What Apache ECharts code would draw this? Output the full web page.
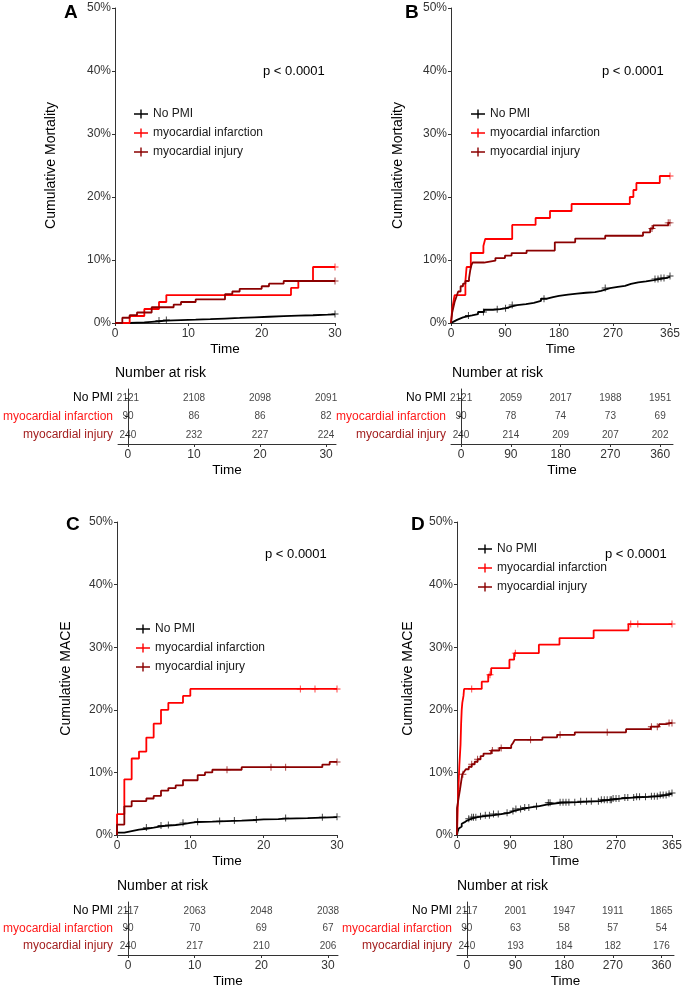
<!DOCTYPE html>
<html>
<head>
<meta charset="utf-8">
<script src="https://cdn.jsdelivr.net/npm/echarts@6/dist/echarts.min.js"></script>
<style>html,body{margin:0;padding:0;background:#fff}#c{width:685px;height:989px}</style>
</head>
<body>
<div id="c"></div>
<script>
// ---------- DATA (percent cumulative incidence, step points [time, value]) ----------
const groups = ['No PMI', 'myocardial infarction', 'myocardial injury'];

// Panel A: mortality, 30 days
const A_noPMI = [[0,0],[2,0.05],[3,0.1],[4,0.19],[5,0.28],[6,0.38],[7,0.47],[9,0.52],[11,0.61],[13,0.71],[15,0.8],[17,0.9],[19,0.99],[21,1.08],[23,1.17],[25,1.23],[27,1.32],[29,1.37],[30,1.42]];
const A_MI = [[0,0],[2,1.11],[4,2.22],[6,3.33],[7,4.44],[24,5.56],[25,6.67],[27,8.89],[30,8.89]];
const A_injury = [[0,0],[1,0.83],[2,1.25],[3,1.67],[5,2.5],[8,2.92],[9,3.33],[11,3.75],[15,4.58],[16,5.0],[17,5.42],[20,5.83],[21,6.25],[23,6.67],[30,6.67]];
const A_cens_noPMI = [6,7,30];
const A_cens_MI = [30];
const A_cens_injury = [30];

// Panel B: mortality, 365 days
const B_noPMI = [[0,0],[3,0.3],[6,0.5],[10,0.7],[15,0.9],[20,1.05],[27,1.2],[35,1.4],[45,1.75],[55,2.1],[70,2.2],[82,2.35],[92,2.6],[100,2.85],[110,3.0],[125,3.2],[138,3.5],[150,3.85],[160,4.1],[170,4.3],[180,4.5],[195,4.65],[210,4.8],[225,4.9],[240,5.1],[250,5.3],[257,5.55],[265,5.75],[278,5.9],[290,6.2],[300,6.45],[312,6.6],[325,6.8],[338,7.0],[350,7.15],[360,7.35],[365,7.45]];
const B_MI = [[0,0],[1,1.11],[2,2.22],[4,3.33],[6,4.44],[24,6.67],[26,8.89],[33,11.11],[54,12.22],[57,13.33],[102,15.56],[141,16.67],[165,17.78],[201,18.89],[298,20.0],[304,21.11],[309,22.22],[348,23.33],[365,23.33]];
const B_injury = [[0,0],[1,0.83],[2,1.67],[4,2.5],[6,3.33],[9,4.17],[12,5.0],[16,5.83],[20,6.25],[24,6.67],[30,7.08],[32,8.33],[34,9.17],[36,9.6],[55,9.9],[74,10.3],[90,10.7],[101,11.1],[126,11.5],[173,12.8],[207,13.4],[257,13.85],[320,14.4],[332,15.0],[337,15.5],[362,15.9],[365,15.9]];
const B_cens_noPMI = [29,54,77,91,102,155,257,340,345,350,355,365];
const B_cens_MI = [365];
const B_cens_injury = [335,362,365];

// Panel C: MACE, 30 days
const C_noPMI = [[0,0],[0,0.37],[1,0.61],[2,0.85],[3,1.0],[4,1.18],[5,1.37],[6,1.51],[7,1.6],[8,1.75],[9,1.94],[10,2.08],[11,2.13],[13,2.22],[15,2.3],[17,2.4],[19,2.48],[20,2.55],[22,2.62],[23,2.7],[26,2.77],[28,2.84],[30,2.9]];
const C_MI = [[0,0],[0,3.33],[1,8.89],[2,12.22],[3,13.33],[4,15.56],[5,17.78],[6,20.0],[7,21.11],[9,22.22],[10,23.33],[30,23.33]];
const C_injury = [[0,0],[0,1.67],[1,4.58],[2,5.42],[4,5.83],[5,6.25],[6,7.08],[7,7.5],[8,7.92],[9,8.75],[11,9.58],[12,10.0],[13,10.42],[17,10.83],[28,11.25],[29,11.67],[30,11.67]];
const C_cens_noPMI = [4,6,7,9,11,14,16,19,23,28,30];
const C_cens_MI = [25,27,30];
const C_cens_injury = [15,21,23,30];

// Panel D: MACE, 365 days
const D_noPMI = [[0,0],[1,0.5],[2,0.8],[3,1.05],[5,1.35],[8,1.8],[11,2.1],[14,2.35],[18,2.6],[25,2.85],[35,3.0],[47,3.15],[60,3.35],[75,3.55],[88,3.85],[97,4.15],[110,4.4],[125,4.6],[140,4.85],[152,5.15],[175,5.25],[205,5.4],[242,5.65],[265,5.85],[281,6.0],[305,6.1],[326,6.2],[345,6.4],[358,6.6],[365,6.7]];
const D_MI = [[0,0],[1,3.33],[2,6.67],[3,8.89],[4,11.11],[6,14.44],[7,17.78],[8,20.0],[9,21.11],[11,22.22],[12,23.33],[42,24.5],[53,25.6],[58,26.65],[89,28.0],[97,29.05],[139,30.4],[174,31.45],[232,32.7],[291,33.7],[365,33.7]];
const D_injury = [[0,0],[0,4.3],[2,5.5],[5,7.2],[7,8.5],[9,9.7],[12,10.1],[15,10.5],[20,10.9],[25,11.3],[30,11.7],[35,12.1],[40,12.6],[45,13.0],[58,13.5],[72,13.9],[92,14.3],[95,14.7],[98,15.2],[145,15.6],[170,16.0],[200,16.4],[287,16.9],[329,17.3],[343,17.7],[355,17.9],[365,17.9]];
const D_cens_noPMI = [20,25,28,32,40,48,55,62,70,85,95,100,108,115,122,135,155,158,175,180,185,190,200,210,220,228,240,245,250,255,260,262,265,270,275,285,290,300,305,310,320,330,335,340,345,350,355,360,365];
const D_cens_MI = [25,56,99,295,307,365];
const D_cens_injury = [10,25,35,60,75,125,175,255,330,340,360,365];

// Number at risk tables
const riskTimes30 = [0,10,20,30];
const riskTimes365 = [0,90,180,270,360];
const A_risk_noPMI = [2121,2108,2098,2091];
const A_risk_MI = [90,86,86,82];
const A_risk_injury = [240,232,227,224];
const B_risk_noPMI = [2121,2059,2017,1988,1951];
const B_risk_MI = [90,78,74,73,69];
const B_risk_injury = [240,214,209,207,202];
const C_risk_noPMI = [2117,2063,2048,2038];
const C_risk_MI = [90,70,69,67];
const C_risk_injury = [240,217,210,206];
const D_risk_noPMI = [2117,2001,1947,1911,1865];
const D_risk_MI = [90,63,58,57,54];
const D_risk_injury = [240,193,184,182,176];

const xTicks30 = [0,10,20,30];
const xTicks365 = [0,90,180,270,365];
const pText = 'p < 0.0001';

// ---------- STYLE ----------
const lineColors = ['#000000', '#FF0000', '#8B0000'];
const tableLabelColors = {'No PMI': '#000000', 'myocardial infarction': '#FF1A1A', 'myocardial injury': '#A31F1F'};
const FONT = 'Liberation Sans, Arial, sans-serif';
const AX = '#333333';
const ICON = 'path://M0,4.3 L14,4.3 L14,5.7 L0,5.7 Z M6.3,0.5 L7.7,0.5 L7.7,9.5 L6.3,9.5 Z';
const CENSOR = 'path://M-0.13,-1 L0.13,-1 L0.13,-0.13 L1,-0.13 L1,0.13 L0.13,0.13 L0.13,1 L-0.13,1 L-0.13,0.13 L-1,0.13 L-1,-0.13 L-0.13,-0.13 Z';

function stepAt(data, t) {
  let y = 0;
  for (const p of data) { if (p[0] <= t) y = p[1]; }
  return y;
}

const panels = [
  {curves:[A_noPMI,A_MI,A_injury], cens:[A_cens_noPMI,A_cens_MI,A_cens_injury], max:30, ticks:xTicks30, ylabel:'Cumulative Mortality', nameGap:57,
   grid:{left:115, top:8, width:220, height:315}, risk:[A_risk_noPMI,A_risk_MI,A_risk_injury], rt:riskTimes30,
   tgrid:{left:115, top:389, width:221, height:55}, trange:[-1.5,31.5]},
  {curves:[B_noPMI,B_MI,B_injury], cens:[B_cens_noPMI,B_cens_MI,B_cens_injury], max:365, ticks:xTicks365, ylabel:'Cumulative Mortality', nameGap:46,
   grid:{left:451, top:8, width:219, height:315}, risk:[B_risk_noPMI,B_risk_MI,B_risk_injury], rt:riskTimes365,
   tgrid:{left:451, top:389, width:222, height:55}, trange:[-18.25,383.25]},
  {curves:[C_noPMI,C_MI,C_injury], cens:[C_cens_noPMI,C_cens_MI,C_cens_injury], max:30, ticks:xTicks30, ylabel:'Cumulative MACE', nameGap:44,
   grid:{left:117, top:522, width:220, height:313}, risk:[C_risk_noPMI,C_risk_MI,C_risk_injury], rt:riskTimes30,
   tgrid:{left:117, top:902, width:221, height:55}, trange:[-1.5,31.5]},
  {curves:[D_noPMI,D_MI,D_injury], cens:[D_cens_noPMI,D_cens_MI,D_cens_injury], max:365, ticks:xTicks365, ylabel:'Cumulative MACE', nameGap:42,
   grid:{left:457, top:522, width:218, height:313}, risk:[D_risk_noPMI,D_risk_MI,D_risk_injury], rt:riskTimes365,
   tgrid:{left:457, top:902, width:217, height:55}, trange:[-18.25,383.25]}
];

const grid = [], xAxis = [], yAxis = [], series = [];
panels.forEach((P, i) => {
  grid.push(P.grid);
  xAxis.push({type:'value', gridIndex:i, min:0, max:P.max,
    axisLine:{show:true, lineStyle:{color:AX, width:1}},
    axisTick:{show:true, length:3, customValues:P.ticks, lineStyle:{color:AX}},
    axisLabel:{customValues:P.ticks, color:'#333', fontSize:12, fontFamily:FONT, margin:5},
    splitLine:{show:false},
    name:'Time', nameLocation:'middle', nameGap:19, nameTextStyle:{color:'#000', fontSize:13.5, fontFamily:FONT}});
  yAxis.push({type:'value', gridIndex:i, min:0, max:50, interval:10,
    axisLine:{show:true, lineStyle:{color:AX, width:1}},
    axisTick:{show:true, length:3, lineStyle:{color:AX}},
    axisLabel:{formatter:'{value}%', color:'#333', fontSize:12, fontFamily:FONT, margin:4},
    splitLine:{show:false},
    name:P.ylabel, nameLocation:'middle', nameGap:P.nameGap, nameRotate:90,
    nameTextStyle:{color:'#000', fontSize:14, fontFamily:FONT}});
  P.curves.forEach((d, g) => {
    series.push({type:'line', name:groups[g], xAxisIndex:i, yAxisIndex:i, data:d, step:'end',
      showSymbol:false, symbol:'none', lineStyle:{color:lineColors[g], width:1.8}, itemStyle:{color:lineColors[g]},
      z:3 + (g === 0 ? 0 : g), animation:false});
    series.push({type:'scatter', name:groups[g], xAxisIndex:i, yAxisIndex:i,
      data:P.cens[g].map(t => [t, stepAt(d, t)]), symbol:CENSOR, symbolSize:7,
      itemStyle:{color:lineColors[g]}, z:4, animation:false, silent:true});
  });
});

// risk tables
panels.forEach((P, i) => {
  const gi = 4 + i;
  grid.push(P.tgrid);
  xAxis.push({type:'value', gridIndex:gi, min:P.trange[0], max:P.trange[1],
    axisLine:{show:true, lineStyle:{color:AX, width:1}},
    axisTick:{show:true, length:3, customValues:P.rt, lineStyle:{color:AX}},
    axisLabel:{customValues:P.rt, color:'#333', fontSize:12, fontFamily:FONT, margin:5},
    splitLine:{show:false},
    name:'Time', nameLocation:'middle', nameGap:19, nameTextStyle:{color:'#000', fontSize:13.5, fontFamily:FONT}});
  yAxis.push({type:'category', gridIndex:gi, data:groups, inverse:true,
    axisLine:{show:true, lineStyle:{color:AX, width:1}},
    axisTick:{show:true, length:3, alignWithLabel:true, lineStyle:{color:AX}},
    axisLabel:{color:(v) => tableLabelColors[v], fontSize:12, fontFamily:FONT, margin:5},
    splitLine:{show:false}});
  P.risk.forEach((vals, g) => {
    series.push({type:'scatter', xAxisIndex:gi, yAxisIndex:gi, symbolSize:1,
      itemStyle:{color:'rgba(0,0,0,0)'},
      data:vals.map((v, k) => [P.rt[k], groups[g], v]),
      label:{show:true, position:'inside', formatter:(p) => String(p.value[2]), color:'#111', fontSize:10, fontFamily:FONT},
      silent:true, animation:false});
  });
});

const legendPos = [{left:129, top:103}, {left:466, top:103}, {left:131, top:618}, {left:473, top:538}];
const legend = legendPos.map(pos => ({
  left:pos.left, top:pos.top, orient:'vertical', itemWidth:14, itemHeight:10, itemGap:7,
  selectedMode:false,
  textStyle:{color:'#1a1a1a', fontSize:12, fontFamily:FONT},
  data:groups.map(g => ({name:g, icon:ICON}))
}));

const T = (text, left, top, size, bold) => ({text, left, top, textStyle:{color:'#000', fontSize:size, fontWeight:bold ? 'bold' : 'normal', fontFamily:FONT}, padding:0});
const title = [
  T('A', 64, 3, 19, true), T('B', 405, 3, 19, true), T('C', 66, 515, 19, true), T('D', 411, 515, 19, true),
  T(pText, 263, 65, 13), T(pText, 602, 65, 13), T(pText, 265, 548, 13), T(pText, 605, 548, 13),
  T('Number at risk', 115, 366, 14), T('Number at risk', 452, 366, 14), T('Number at risk', 117, 879, 14), T('Number at risk', 457, 879, 14)
];

const chart = echarts.init(document.getElementById('c'), null, {renderer:'canvas'});
chart.setOption({animation:false, backgroundColor:'#fff', title, legend, grid, xAxis, yAxis, series});
</script>
</body>
</html>
